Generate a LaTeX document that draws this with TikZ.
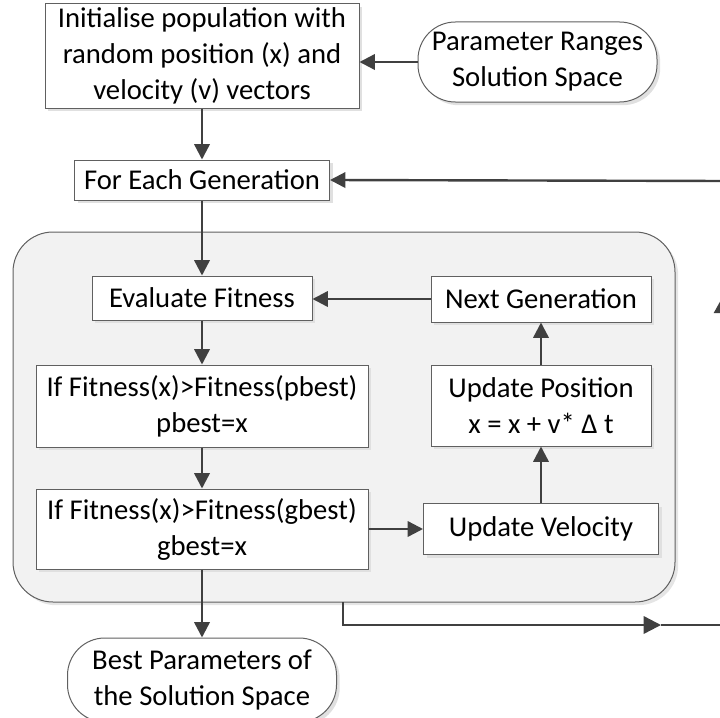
\documentclass[tikz,border=0pt]{standalone}
\usepackage{fontspec}
\setmainfont{Carlito}
\usepackage{tikz}
\usepackage{xcolor}
\usetikzlibrary{arrows.meta,shadows}
\definecolor{linegray}{RGB}{64,64,64}
\definecolor{boxgray}{RGB}{96,96,96}
\definecolor{panelgray}{RGB}{242,242,242}

\tikzset{
  procbox/.style={draw=boxgray,line width=0.75pt,fill=white,align=center,inner sep=2pt,
        font=\fontsize{21.5}{27}\selectfont,
        drop shadow={shadow xshift=2.4pt,shadow yshift=-2.4pt,fill=black!12,opacity=1}},
  termbox/.style={procbox,rounded corners=28pt},
  flow/.style={draw=linegray,line width=1.8pt,-{Triangle[length=11.5pt,width=11.5pt]}}
}

\begin{document}
\begin{tikzpicture}[x=0.75pt,y=-0.75pt]
  \useasboundingbox (0,0) rectangle (720,717);
  \clip (0,0) rectangle (720,717);

  % panel round the inner loop
  \node[draw=boxgray,fill=panelgray,line width=0.75pt,rounded corners=30pt,
        minimum width=496.5pt,minimum height=277.5pt,
        drop shadow={shadow xshift=2.4pt,shadow yshift=-2.4pt,fill=black!10,opacity=1}]
        (swarm) at (344,417) {};

  % top: set-up
  \node[procbox,minimum width=235.5pt,minimum height=78pt] (init) at (202,56)
        {Initialise population with\\random position (x) and\\velocity (v) vectors};
  \node[termbox,minimum width=179.25pt,minimum height=60pt] (range) at (537.5,62)
        {Parameter Ranges\\Solution Space};
  \node[procbox,minimum width=191.25pt,minimum height=30pt] (feg) at (202,180)
        {For Each Generation};

  % inner loop, left column
  \node[procbox,minimum width=165pt,minimum height=33pt] (eval) at (202,298) {Evaluate Fitness};
  \node[procbox,minimum width=249pt,minimum height=61.5pt] (pbest) at (202,406)
        {If Fitness(x)>Fitness(pbest)\\pbest=x};
  \node[procbox,minimum width=249pt,minimum height=60pt] (gbest) at (202,529)
        {If Fitness(x)>Fitness(gbest)\\gbest=x};

  % inner loop, right column
  \node[procbox,minimum width=165pt,minimum height=34.5pt] (next) at (541,299) {Next Generation};
  \node[procbox,minimum width=165pt,minimum height=60.75pt] (pos) at (541,405.5)
        {Update Position\\x = x + v* Δ t};
  \node[procbox,minimum width=176.25pt,minimum height=38.25pt] (vel) at (541,529) {Update Velocity};

  % end
  \node[termbox,minimum width=201.75pt,minimum height=63pt] (best) at (202,680)
        {Best Parameters of\\the Solution Space};

  % connectors
  \draw[flow] (init.south) -- (feg.north);
  \draw[flow] (range.west) -- (range.west -| init.east);
  \draw[flow] (feg.south) -- (eval.north);
  \draw[flow] (next.west) -- (next.west -| eval.east);
  \draw[flow] (eval.south) -- (pbest.north);
  \draw[flow] (pbest.south) -- (gbest.north);
  \draw[flow] (gbest.east) -- (vel.west);
  \draw[flow] (vel.north) -- (pos.south);
  \draw[flow] (pos.north) -- (next.south);
  \draw[flow] (gbest.south) -- (best.north);

  % outer loop (runs off the right edge)
  \coordinate (loopout) at (343,602);
  \coordinate (loopmid) at (661,625);
  \coordinate (loopend) at (726,625);
  \draw[flow,-{Triangle[length=13pt,width=13pt]}] (loopout) |- (loopmid);
  \draw[draw=linegray,line width=1.8pt] (loopmid) -- (loopend);
  \coordinate (riserbase) at (722,420);
  \coordinate (risertop) at (722,298);
  \draw[flow,-{Triangle[length=11.25pt,width=12pt]}] (riserbase) -- (risertop);
  \coordinate (loopin) at (726,181);
  \draw[flow] (loopin) -- (feg.east);
\end{tikzpicture}
\end{document}
